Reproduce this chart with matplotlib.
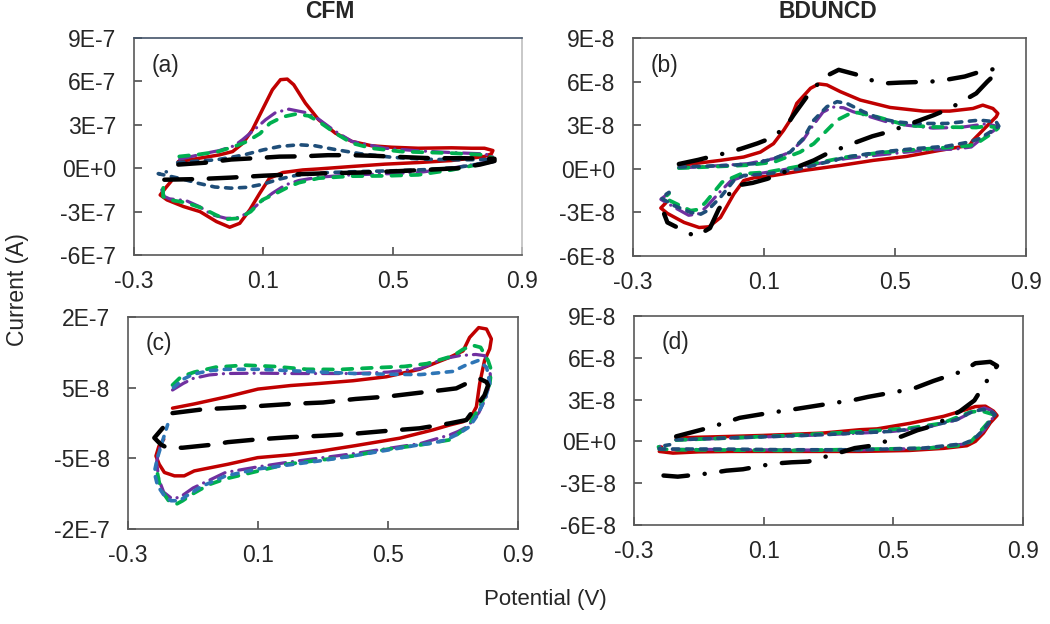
import matplotlib
matplotlib.use('Agg')
import matplotlib.pyplot as plt

plt.rcParams['font.family'] = ['Liberation Sans', 'DejaVu Sans']
plt.rcParams['lines.scale_dashes'] = False

# ---------------- data (potential in V, current in panel units) ----------------
# Panel (a) CFM, current in 1e-7 A
A_SCALE = 1e-7
A_RED_V = [-0.163, -0.098, -0.036, 0.005, 0.037, 0.066, 0.097, 0.128, 0.153, 0.174, 0.194, 0.23, 0.271, 0.323, 0.374, 0.435, 0.497, 0.579, 0.682, 0.743, 0.784, 0.81,
           0.805, 0.784, 0.682, 0.579, 0.476, 0.374, 0.271, 0.222, 0.16, 0.119, 0.089, 0.058, 0.027, -0.004, -0.045, -0.096, -0.147, -0.198, -0.219, -0.2, -0.185]
A_RED_I = [0.46, 0.69, 0.92, 1.15, 1.73, 2.65, 4.04, 5.42, 6.12, 6.16, 5.77, 4.5, 3.35, 2.42, 1.85, 1.55, 1.45, 1.38, 1.41, 1.38, 1.38, 1.22,
           0.99, 0.81, 0.53, 0.39, 0.28, 0.12, -0.05, -0.12, -0.3, -0.69, -1.73, -2.88, -3.81, -4.08, -3.69, -3.0, -2.65, -2.19, -1.85, -1.3, -0.9]
A_PUR_V = [-0.159, -0.077, -0.036, 0.01, 0.035, 0.066, 0.107, 0.138, 0.179, 0.23, 0.271, 0.323, 0.374, 0.476, 0.579, 0.682, 0.784, 0.81,
           0.784, 0.682, 0.579, 0.476, 0.374, 0.271, 0.21, 0.169, 0.128, 0.087, 0.051, 0.015, -0.016, -0.057, -0.098, -0.139, -0.19, -0.206, -0.216]
A_PUR_I = [0.62, 1.04, 1.22, 1.55, 1.96, 2.54, 3.35, 3.85, 4.08, 3.85, 3.39, 2.54, 1.85, 1.38, 1.2, 1.08, 0.99, 0.81,
           0.39, 0.0, -0.3, -0.39, -0.46, -0.62, -0.85, -1.15, -1.73, -2.42, -3.12, -3.46, -3.46, -3.23, -2.65, -2.24, -2.12, -1.96, -1.38]
A_GRN_V = [-0.16, -0.1, -0.04, 0.01, 0.05, 0.09, 0.12, 0.16, 0.2, 0.24, 0.271, 0.323, 0.374, 0.435, 0.527, 0.682, 0.784, 0.81,
           0.784, 0.682, 0.579, 0.476, 0.374, 0.271, 0.21, 0.18, 0.14, 0.097, 0.061, 0.025, -0.016, -0.047, -0.088, -0.139, -0.19, -0.21, -0.21, -0.2]
A_GRN_I = [0.81, 0.95, 1.15, 1.5, 1.85, 2.4, 3.1, 3.55, 3.74, 3.62, 3.23, 2.42, 1.73, 1.38, 1.15, 1.04, 0.92, 0.7,
           0.35, -0.12, -0.46, -0.53, -0.55, -0.69, -1.0, -1.27, -1.73, -2.19, -3.0, -3.46, -3.53, -3.23, -2.77, -2.38, -2.19, -1.96, -1.38, -1.04]
A_BLU_V = [-0.165, -0.1, -0.045, 0.0, 0.04, 0.1, 0.15, 0.21, 0.26, 0.32, 0.4, 0.5, 0.6, 0.7, 0.81,
           0.81, 0.7, 0.6, 0.5, 0.4, 0.3, 0.2, 0.15, 0.1, 0.05, 0.0, -0.05, -0.1, -0.15, -0.2, -0.225, -0.2]
A_BLU_I = [0.39, 0.5, 0.58, 0.75, 0.92, 1.27, 1.5, 1.62, 1.55, 1.3, 1.0, 0.75, 0.62, 0.58, 0.6,
           0.45, 0.05, -0.1, -0.18, -0.23, -0.3, -0.5, -0.75, -1.1, -1.32, -1.38, -1.3, -1.05, -0.75, -0.5, -0.38, -0.25]
A_BLK_V = [-0.163, -0.08, 0.0, 0.08, 0.15, 0.22, 0.3, 0.37, 0.45, 0.53, 0.62, 0.72, 0.815,
           0.815, 0.77, 0.7, 0.6, 0.5, 0.4, 0.3, 0.2, 0.1, 0.0, -0.1, -0.215]
A_BLK_I = [0.25, 0.38, 0.6, 0.7, 0.8, 0.82, 0.9, 0.9, 0.85, 0.77, 0.69, 0.69, 0.65,
           0.5, 0.25, 0.0, -0.12, -0.22, -0.3, -0.35, -0.42, -0.52, -0.65, -0.75, -0.8]

# Panel (b) BDUNCD, current in 1e-8 A
B_SCALE = 1e-8
B_RED_V = [-0.159, -0.033, 0.038, 0.089, 0.129, 0.16, 0.18, 0.2, 0.242, 0.267, 0.292, 0.333, 0.394, 0.485, 0.586, 0.667, 0.738, 0.768, 0.799, 0.814,
           0.809, 0.778, 0.738, 0.728, 0.637, 0.535, 0.434, 0.333, 0.22, 0.129, 0.069, 0.038, 0.008, -0.033, -0.068, -0.098, -0.144, -0.195, -0.215, -0.2]
B_RED_I = [0.23, 0.58, 0.81, 1.15, 1.73, 2.65, 3.35, 4.5, 5.54, 5.84, 5.77, 5.31, 4.73, 4.22, 3.97, 3.97, 4.15, 4.38, 4.15, 3.81,
           3.58, 2.88, 1.96, 1.62, 1.27, 0.85, 0.58, 0.23, -0.12, -0.46, -0.62, -0.81, -1.73, -3.35, -3.99, -4.04, -3.69, -3.07, -2.7, -2.35]
B_PUR_V = [-0.16, -0.05, 0.05, 0.13, 0.18, 0.22, 0.25, 0.28, 0.31, 0.343, 0.373, 0.424, 0.475, 0.535, 0.616, 0.7, 0.78, 0.815,
           0.8, 0.76, 0.733, 0.682, 0.6, 0.535, 0.45, 0.35, 0.25, 0.15, 0.05, 0.0, -0.035, -0.075, -0.1, -0.13, -0.17, -0.215, -0.19]
B_PUR_I = [0.05, 0.2, 0.35, 0.7, 1.15, 2.0, 3.0, 3.9, 4.25, 4.2, 3.92, 3.58, 3.23, 3.0, 2.8, 2.85, 3.1, 2.9,
           2.6, 2.0, 1.5, 1.35, 1.3, 1.15, 0.95, 0.7, 0.3, -0.1, -0.45, -0.8, -1.6, -2.6, -3.1, -3.2, -2.7, -2.1, -1.65]
B_GRN_V = [-0.16, -0.05, 0.05, 0.13, 0.21, 0.252, 0.323, 0.373, 0.444, 0.535, 0.616, 0.7, 0.748, 0.785, 0.815,
           0.8, 0.76, 0.73, 0.65, 0.55, 0.45, 0.35, 0.25, 0.11, 0.03, -0.028, -0.078, -0.1, -0.124, -0.205, -0.19]
B_GRN_I = [0.05, 0.15, 0.25, 0.46, 1.15, 1.73, 3.35, 3.92, 3.58, 3.0, 2.88, 2.86, 2.84, 2.95, 2.8,
           2.5, 1.9, 1.6, 1.45, 1.3, 1.1, 0.8, 0.35, -0.23, -0.35, -0.92, -2.3, -2.8, -2.88, -2.0, -1.7]
B_BLU_V = [-0.159, -0.012, 0.069, 0.129, 0.18, 0.22, 0.252, 0.292, 0.323, 0.353, 0.404, 0.454, 0.505, 0.556, 0.657, 0.758, 0.809, 0.817,
           0.799, 0.758, 0.728, 0.657, 0.556, 0.454, 0.353, 0.21, 0.109, 0.038, 0.008, -0.033, -0.073, -0.093, -0.124, -0.174, -0.215, -0.19]
B_BLU_I = [0.12, 0.23, 0.35, 0.69, 1.15, 2.08, 3.35, 4.27, 4.62, 4.5, 3.92, 3.46, 3.23, 3.12, 3.12, 3.35, 3.23, 2.93,
           2.65, 2.08, 1.85, 1.55, 1.38, 1.15, 0.81, 0.0, -0.35, -0.46, -0.81, -1.96, -2.88, -3.12, -3.0, -2.54, -2.0, -1.62]
B_BLK_V = [-0.16, -0.1, -0.06, -0.017, 0.03, 0.08, 0.12, 0.165, 0.19, 0.242, 0.287, 0.328, 0.38, 0.424, 0.47, 0.515, 0.611, 0.665, 0.713, 0.77, 0.8, 0.815,
           0.782, 0.748, 0.667, 0.618, 0.571, 0.48, 0.431, 0.384, 0.292, 0.252, 0.201, 0.11, 0.065, 0.03, 0.008, -0.038, -0.065, -0.109, -0.15, -0.195, -0.205]
B_BLK_I = [0.33, 0.62, 0.85, 1.08, 1.38, 1.75, 2.1, 2.84, 3.69, 5.31, 6.35, 6.81, 6.5, 6.12, 5.88, 5.93, 6.0, 6.16, 6.35, 6.75, 6.85, 6.7,
           6.0, 5.19, 4.15, 3.69, 3.3, 2.54, 2.24, 1.85, 1.04, 0.58, 0.12, -0.69, -0.97, -1.1, -1.27, -2.77, -4.08, -4.66, -4.2, -3.69, -3.1]

# Panel (c) CFM, current in 1e-8 A
C_SCALE = 1e-8
C_RED_V = [-0.163, -0.096, 0.007, 0.1, 0.2, 0.29, 0.392, 0.495, 0.536, 0.597, 0.638, 0.69, 0.731, 0.751, 0.779, 0.803, 0.818, 0.813, 0.797, 0.782, 0.772, 0.756,
           0.731, 0.69, 0.638, 0.536, 0.4, 0.29, 0.2, 0.099, 0.007, -0.096, -0.127, -0.157, -0.188, -0.204, -0.214, -0.205, -0.19]
C_RED_I = [2.1, 2.7, 3.74, 4.8, 5.3, 5.6, 5.98, 6.54, 6.96, 7.6, 8.36, 9.3, 10.2, 12.1, 13.5, 13.3, 11.9, 10.5, 8.83, 5.56, 2.29, 0.89,
           0.19, -0.28, -0.98, -2.15, -3.2, -4.0, -4.5, -4.9, -5.84, -6.78, -7.48, -7.48, -7.0, -5.84, -4.67, -3.3, -2.3]
C_PUR_V = [-0.163, -0.13, -0.1, -0.05, 0.0, 0.1, 0.2, 0.3, 0.4, 0.5, 0.6, 0.669, 0.72, 0.77, 0.797, 0.813, 0.815, 0.805, 0.78,
           0.745, 0.715, 0.69, 0.6, 0.5, 0.4, 0.3, 0.2, 0.1, 0.0, -0.1, -0.14, -0.165, -0.19, -0.205, -0.212, -0.2]
C_PUR_I = [4.67, 5.6, 6.3, 6.8, 7.0, 7.05, 7.0, 7.0, 7.0, 7.2, 7.7, 9.07, 9.53, 9.7, 9.53, 8.36, 6.5, 4.0, 1.5,
           -0.5, -1.21, -1.68, -2.9, -3.6, -4.3, -4.9, -5.5, -6.2, -7.0, -9.2, -10.5, -10.7, -9.8, -8.0, -5.5, -3.0]
C_GRN_V = [-0.163, -0.137, -0.096, -0.03, 0.06, 0.15, 0.25, 0.35, 0.45, 0.55, 0.62, 0.7, 0.73, 0.76, 0.785, 0.808, 0.818, 0.813, 0.797, 0.782,
           0.746, 0.69, 0.6, 0.5, 0.392, 0.3, 0.187, 0.1, 0.0, -0.05, -0.1, -0.132, -0.152, -0.175, -0.193, -0.204, -0.212]
C_GRN_I = [5.37, 6.54, 7.2, 7.9, 8.18, 8.0, 7.6, 7.57, 7.8, 8.0, 8.4, 9.5, 10.4, 11.0, 10.7, 8.83, 7.43, 5.56, 3.69, 2.29,
           -0.51, -2.38, -3.1, -3.7, -4.67, -5.2, -5.84, -6.8, -7.9, -8.7, -10.0, -11.0, -11.5, -11.0, -9.8, -8.4, -6.5]
C_BLU_V = [-0.16, -0.13, -0.1, -0.05, 0.0, 0.1, 0.2, 0.3, 0.4, 0.5, 0.6, 0.7, 0.74, 0.777, 0.803, 0.808, 0.813, 0.797, 0.772,
           0.751, 0.72, 0.679, 0.638, 0.597, 0.536, 0.4, 0.3, 0.2, 0.1, 0.0, -0.075, -0.116, -0.142, -0.168, -0.188, -0.209, -0.219, -0.21, -0.19, -0.178]
C_BLU_I = [5.0, 6.2, 6.9, 7.4, 7.6, 7.6, 7.4, 7.2, 7.0, 6.9, 6.85, 7.3, 8.2, 8.83, 7.9, 6.96, 5.56, 3.22, 0.89,
           -0.51, -1.45, -2.38, -2.85, -3.08, -3.55, -4.6, -5.3, -5.9, -6.5, -7.5, -9.0, -10.2, -11.0, -11.0, -10.3, -8.88, -7.0, -5.0, -2.0, -0.23]
C_BLK_V = [-0.163, -0.065, 0.0, 0.084, 0.2, 0.3, 0.4, 0.5, 0.6, 0.67, 0.71, 0.751, 0.782, 0.803, 0.808,
           0.797, 0.741, 0.69, 0.597, 0.5, 0.4, 0.3, 0.2, 0.094, 0.007, -0.034, -0.132, -0.18, -0.199, -0.219, -0.193]
C_BLK_I = [1.4, 1.96, 2.1, 2.34, 2.7, 2.9, 3.4, 3.75, 4.3, 4.67, 4.9, 5.8, 6.26, 5.8, 5.33,
           3.93, 0.42, -0.05, -0.75, -1.1, -1.5, -1.8, -2.0, -2.34, -2.71, -3.04, -3.5, -3.5, -3.04, -2.1, -0.7]

# Panel (d) BDUNCD, current in 1e-8 A
D_SCALE = 1e-8
D_RED_V = [-0.17, -0.1, 0.0, 0.1, 0.2, 0.283, 0.397, 0.45, 0.552, 0.655, 0.727, 0.753, 0.784, 0.809, 0.82,
           0.799, 0.778, 0.753, 0.727, 0.655, 0.55, 0.4, 0.2, 0.0, -0.1, -0.18, -0.222, -0.215]
D_RED_I = [0.24, 0.3, 0.36, 0.43, 0.52, 0.6, 0.84, 0.9, 1.3, 1.8, 2.3, 2.5, 2.53, 2.17, 1.86,
           1.33, 0.6, 0.0, -0.31, -0.5, -0.65, -0.72, -0.72, -0.72, -0.75, -0.84, -0.72, -0.4]
D_PUR_V = [-0.17, 0.077, 0.283, 0.49, 0.593, 0.696, 0.747, 0.78, 0.8, 0.815,
           0.78, 0.747, 0.716, 0.593, 0.387, 0.18, -0.026, -0.17, -0.222, -0.22]
D_PUR_I = [0.1, 0.3, 0.47, 0.7, 0.95, 1.55, 2.15, 2.4, 2.25, 1.95,
           0.8, 0.1, -0.2, -0.5, -0.62, -0.62, -0.58, -0.57, -0.55, -0.35]
D_GRN_V = [-0.17, 0.0, 0.2, 0.4, 0.55, 0.65, 0.737, 0.77, 0.809,
           0.79, 0.76, 0.74, 0.7, 0.6, 0.45, 0.2, 0.0, -0.17, -0.222, -0.225]
D_GRN_I = [0.1, 0.25, 0.45, 0.7, 0.95, 1.3, 2.1, 2.2, 1.93,
           1.3, 0.5, 0.0, -0.3, -0.5, -0.55, -0.65, -0.62, -0.6, -0.55, -0.35]
D_BLU_V = [-0.17, 0.077, 0.283, 0.49, 0.593, 0.696, 0.747, 0.778, 0.799, 0.814,
           0.778, 0.747, 0.716, 0.593, 0.387, 0.18, -0.026, -0.17, -0.222, -0.222, -0.19]
D_BLU_I = [0.12, 0.31, 0.48, 0.72, 0.96, 1.57, 2.17, 2.29, 2.17, 1.93,
           0.84, 0.12, -0.17, -0.48, -0.6, -0.6, -0.55, -0.55, -0.55, -0.36, -0.24]
D_BLK_V = [-0.17, -0.072, -0.021, 0.026, 0.119, 0.175, 0.222, 0.32, 0.376, 0.423, 0.521, 0.57, 0.624, 0.716, 0.753, 0.799, 0.82,
           0.778, 0.75, 0.706, 0.624, 0.574, 0.526, 0.433, 0.381, 0.33, 0.237, 0.186, 0.129, 0.036, -0.015, -0.067, -0.165, -0.209]
D_BLK_I = [0.36, 0.96, 1.33, 1.69, 2.05, 2.24, 2.41, 2.77, 2.96, 3.2, 3.61, 3.86, 4.34, 5.06, 5.61, 5.71, 5.42,
           3.98, 2.94, 2.17, 1.13, 0.8, 0.36, -0.31, -0.48, -0.84, -1.45, -1.5, -1.6, -2.0, -2.1, -2.29, -2.53, -2.45]

X_TICKS = [-0.3, 0.1, 0.5, 0.9]
X_LABELS = ['-0.3', '0.1', '0.5', '0.9']
AB_TICKS_A = [-6e-7, -3e-7, 0, 3e-7, 6e-7, 9e-7]
AB_LABELS_A = ['-6E-7', '-3E-7', '0E+0', '3E-7', '6E-7', '9E-7']
TICKS_8 = [-6e-8, -3e-8, 0, 3e-8, 6e-8, 9e-8]
LABELS_8 = ['-6E-8', '-3E-8', '0E+0', '3E-8', '6E-8', '9E-8']
C_TICKS = [-1.5e-7, -5e-8, 5e-8, 1.5e-7]
C_LABELS = ['-2E-7', '-5E-8', '5E-8', '2E-7']

# ---------------- styles ----------------
RED = dict(color='#C00000', lw=2.5, ls='-', solid_capstyle='round', solid_joinstyle='round')
PUR = dict(color='#7030A0', lw=2.3, ls=(0, (12, 5, 0.1, 5)), dash_capstyle='round')
GRN = dict(color='#00B050', lw=2.7, ls=(0, (7, 7)), dash_capstyle='round')
NAVY = dict(color='#1F4E79', lw=2.6, ls=(0, (4.5, 5.5)), dash_capstyle='round')
LBLU = dict(color='#2E75B6', lw=2.6, ls=(0, (4.5, 5.5)), dash_capstyle='round')
BLK_DASH = dict(color='black', lw=3.2, ls=(0, (20, 12)), dash_capstyle='round')
BLK_DD = dict(color='black', lw=3.2, ls=(0, (20, 12, 0.1, 12)), dash_capstyle='round')

TXT = '#262626'
FS = 16.5

fig = plt.figure(figsize=(10.5, 6.24), dpi=100)
axa = fig.add_axes([134/1050, 1-255/624, 388/1050, 217/624])
axb = fig.add_axes([633/1050, 1-256/624, 393/1050, 218/624])
axc = fig.add_axes([128/1050, 1-529/624, 390/1050, 212/624])
axd = fig.add_axes([634/1050, 1-525/624, 389/1050, 209/624])


def draw(ax, scale, curves):
    for v, i, st in curves:
        ax.plot(v, [val * scale for val in i], **st)


draw(axa, A_SCALE, [(A_RED_V, A_RED_I, RED), (A_PUR_V, A_PUR_I, PUR), (A_GRN_V, A_GRN_I, GRN),
                    (A_BLU_V, A_BLU_I, NAVY), (A_BLK_V, A_BLK_I, BLK_DASH)])
draw(axb, B_SCALE, [(B_RED_V, B_RED_I, RED), (B_PUR_V, B_PUR_I, PUR), (B_GRN_V, B_GRN_I, GRN),
                    (B_BLU_V, B_BLU_I, NAVY), (B_BLK_V, B_BLK_I, BLK_DD)])
draw(axc, C_SCALE, [(C_RED_V, C_RED_I, RED), (C_PUR_V, C_PUR_I, PUR), (C_GRN_V, C_GRN_I, GRN),
                    (C_BLU_V, C_BLU_I, LBLU), (C_BLK_V, C_BLK_I, BLK_DASH)])
draw(axd, D_SCALE, [(D_RED_V, D_RED_I, RED), (D_PUR_V, D_PUR_I, PUR), (D_GRN_V, D_GRN_I, GRN),
                    (D_BLU_V, D_BLU_I, NAVY), (D_BLK_V, D_BLK_I, BLK_DD)])

for ax, yt, yl, lab in [(axa, AB_TICKS_A, AB_LABELS_A, '(a)'), (axb, TICKS_8, LABELS_8, '(b)'),
                        (axc, C_TICKS, C_LABELS, '(c)'), (axd, TICKS_8, LABELS_8, '(d)')]:
    ax.set_xlim(-0.3, 0.9)
    ax.set_ylim(yt[0], yt[-1])
    ax.set_xticks(X_TICKS)
    ax.set_xticklabels(X_LABELS)
    ax.set_yticks(yt)
    ax.set_yticklabels(yl)
    ax.tick_params(direction='in', length=6, width=1.1, color='#404040',
                   labelsize=FS, labelcolor=TXT, pad=11)
    ax.tick_params(axis='y', pad=13)
    for s in ax.spines.values():
        s.set_color('#595959')
        s.set_linewidth(1.2)
    ax.text(0.046 if lab != '(d)' else 0.072, 0.875, lab, transform=ax.transAxes,
            ha='left', va='center', fontsize=FS, color=TXT)

axa.spines['top'].set_color('#44546A')
axa.spines['right'].set_color('#BFBFBF')

fig.text(330/1050, 1-12/624, 'CFM', ha='center', va='center', fontsize=FS, fontweight='bold', color=TXT)
fig.text(828/1050, 1-12/624, 'BDUNCD', ha='center', va='center', fontsize=FS, fontweight='bold', color=TXT)
fig.text(18/1050, 1-290/624, 'Current (A)', rotation=90, ha='center', va='center', fontsize=16.5, color=TXT)
fig.text(545/1050, 1-600/624, 'Potential (V)', ha='center', va='center', fontsize=16, color=TXT)

fig.savefig('out.png', dpi=100)
